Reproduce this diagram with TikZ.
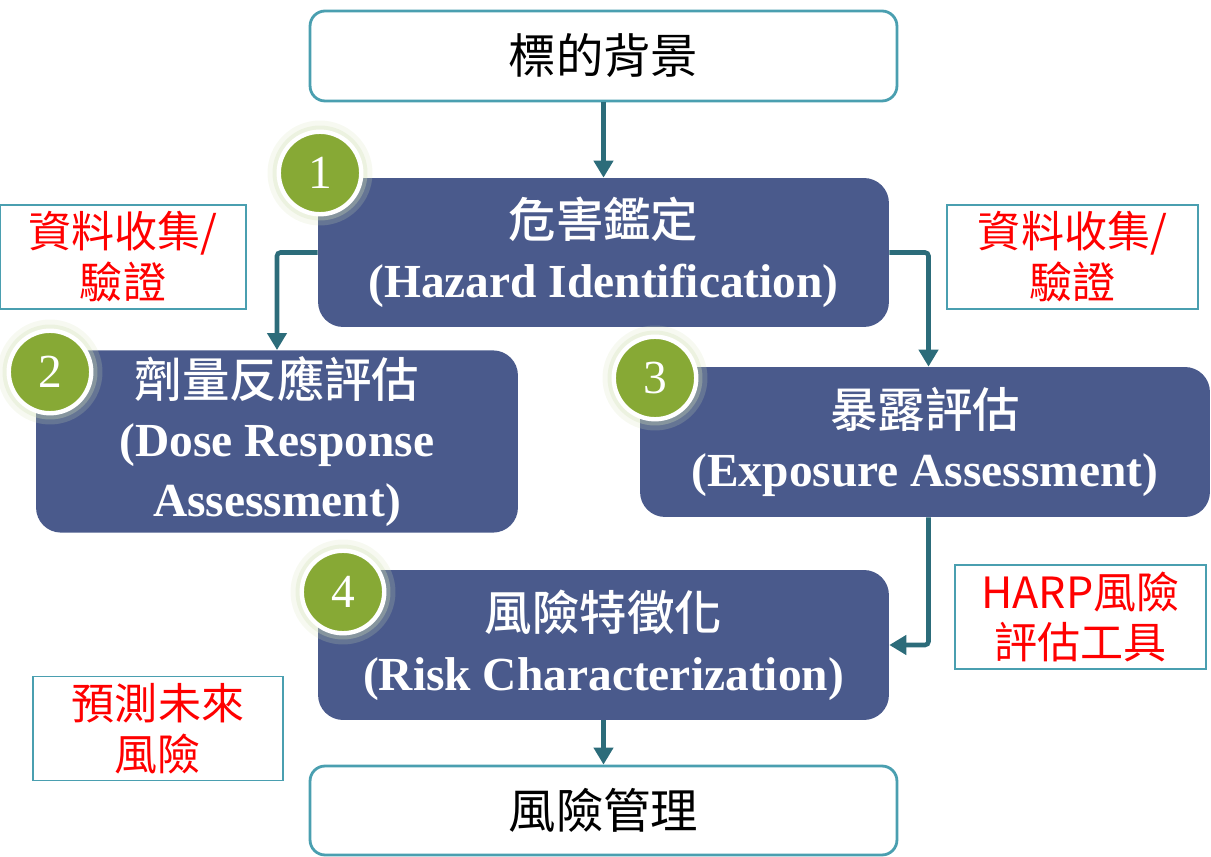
\documentclass[tikz,border=0pt]{standalone}
\usepackage{fontspec}
\setmainfont{Liberation Serif}
\newfontfamily\cjk{Noto Sans CJK TC}
\newfontfamily\cjkmid{Noto Sans CJK TC}[UprightFont=* Medium]
\usetikzlibrary{arrows.meta}
\definecolor{boxblue}{HTML}{4A5A8C}
\definecolor{rimteal}{HTML}{4A9FB0}
\definecolor{arrteal}{HTML}{2C6C7A}
\definecolor{numgreen}{HTML}{87A935}

\tikzset{
  plainbox/.style={draw=rimteal, line width=1.6pt, fill=white, rounded corners=0.3cm,
    minimum width=11.74cm, minimum height=1.8cm, font=\cjk\fontsize{27}{30}\selectfont},
  stagebox/.style={fill=boxblue, rounded corners=0.5cm, text=white, align=center,
    font=\fontsize{27}{34}\selectfont\bfseries},
  notebox/.style={draw=rimteal, line width=0.8pt, fill=white, text=red, align=center,
    minimum width=5cm, minimum height=2.08cm, font=\cjk\fontsize{24.5}{29}\selectfont},
  numdot/.style={circle, fill=numgreen, draw=white, line width=2.5pt, minimum size=1.65cm,
    text=white, inner sep=0pt, font=\fontsize{27}{27}\selectfont},
  flow/.style={arrteal, line width=2.6pt, rounded corners=2pt,
    -{Triangle[width=0.38cm, length=0.34cm]}}
}

\newcommand{\glowat}[1]{%
  \fill[numgreen!35, opacity=0.2] (#1) circle (1.05cm);
  \fill[numgreen!35, opacity=0.3] (#1) circle (0.95cm);
}

\begin{document}
\begin{tikzpicture}[x=0.02cm, y=-0.02cm]
\useasboundingbox (0,0) rectangle (1211,857);

% main chain
\node[plainbox] (goal) at (603.5,56) {標的背景};
\node[stagebox, minimum width=11.42cm, minimum height=2.98cm] (haz) at (603.5,252.5)
  {{\cjkmid\mdseries 危害鑑定}\\(Hazard Identification)};
\node[stagebox, minimum width=9.64cm, minimum height=3.58cm] (dose) at (277,441.5)
  {{\cjkmid\mdseries 劑量反應評估}\\(Dose Response\\Assessment)};
\node[stagebox, minimum width=11.4cm, minimum height=3cm] (expo) at (925,442)
  {{\cjkmid\mdseries 暴露評估}\\(Exposure Assessment)};
\node[stagebox, minimum width=11.42cm, minimum height=3cm] (risk) at (603.5,645)
  {{\cjkmid\mdseries 風險特徵化}\\(Risk Characterization)};
\node[plainbox, minimum height=1.78cm] (mgmt) at (603.5,810.5) {風險管理};

% side notes
\node[notebox, minimum width=4.92cm] (noteL) at (123,257) {資料收集/\\驗證};
\node[notebox, minimum width=5.02cm] (noteR) at (1072.5,257) {資料收集/\\驗證};
\node[notebox, minimum width=5.02cm] (harp) at (1080.5,617) {HARP風險\\評估工具};
\node[notebox] (pred) at (158,728.5) {預測未來\\風險};

% connectors
\draw[flow] (goal.south) -- (haz.north);
\draw[flow] (haz.west) -| (dose.north);
\draw[flow] (haz.east) -| ([xshift=2]expo.north);
\draw[flow] ([xshift=2]expo.south) |- (risk.east);
\draw[flow] (risk.south) -- (mgmt.north);

% step numbers
\glowat{320,173}
\node[numdot] (n1) at (320,173) {1};
\glowat{50,372}
\node[numdot] (n2) at (50,372) {2};
\glowat{655,378}
\node[numdot] (n3) at (655,378) {3};
\glowat{343,592}
\node[numdot] (n4) at (343,592) {4};
\end{tikzpicture}
\end{document}
